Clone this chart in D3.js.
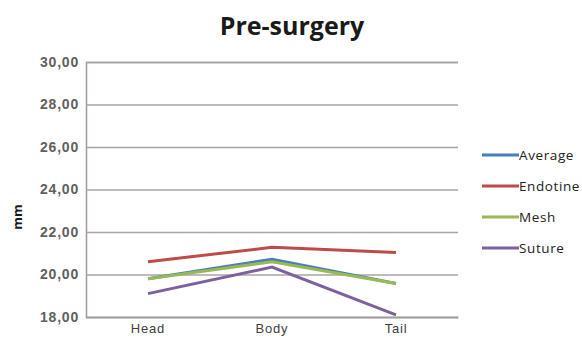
<!DOCTYPE html>
<html>
<head>
<meta charset="utf-8">
<script src="https://cdn.jsdelivr.net/npm/d3@7"></script>
<style>
  body { margin: 0; background: #fff; }
  svg { display: block; font-family: "Open Sans", "Noto Sans", sans-serif; }
</style>
</head>
<body>
<div id="chart"></div>
<script>
// chart values
const categories = ["Head", "Body", "Tail"];
const seriesNames = ["Average", "Endotine", "Mesh", "Suture"];
const average = [19.80, 20.72, 19.58];
const endotine = [20.60, 21.28, 21.03];
const mesh = [19.80, 20.60, 19.58];
const suture = [19.10, 20.35, 18.10];
const yTicks = [18, 20, 22, 24, 26, 28, 30];
const colors = ["#4a7ebb", "#be4b48", "#98b954", "#7d60a0"];

const width = 582;
const height = 341;
const margin = { top: 62, right: 124, bottom: 24, left: 86 };

const svg = d3.select("#chart").append("svg")
    .attr("width", width)
    .attr("height", height);

const x = d3.scaleBand()
    .domain(categories)
    .range([margin.left, width - margin.right]);

const y = d3.scaleLinear()
    .domain([18, 30])
    .range([height - margin.bottom, margin.top]);

// title
svg.append("text")
    .attr("x", 292)
    .attr("y", 35)
    .attr("text-anchor", "middle")
    .attr("font-size", 25)
    .attr("font-weight", "bold")
    .attr("fill", "#1a1a1a")
    .text("Pre-surgery");

// gridlines + y axis
const yAxis = svg.append("g")
    .attr("transform", `translate(${margin.left},0)`)
    .call(d3.axisLeft(y)
        .tickValues(yTicks)
        .tickSize(-(width - margin.right - margin.left))
        .tickPadding(7)
        .tickFormat(d => d3.format(".2f")(d).replace(".", ",")));
yAxis.select(".domain").attr("stroke", "#a09a98").attr("stroke-width", 1.5);
yAxis.selectAll(".tick line").attr("stroke", "#a8a4a2").attr("stroke-width", 1.3);
yAxis.selectAll(".tick text")
    .attr("font-size", 14)
    .attr("font-weight", "bold")
    .attr("letter-spacing", 0.8)
    .attr("fill", "#606060");

// x axis (labels sit low, as in the reference, but kept inside the frame)
const xAxis = svg.append("g")
    .attr("transform", `translate(0,${height - margin.bottom})`)
    .call(d3.axisBottom(x).tickSize(0).tickPadding(7));
xAxis.select(".domain").attr("stroke", "#a09a98").attr("stroke-width", 1.5);
xAxis.selectAll(".tick text")
    .attr("font-size", 13)
    .attr("letter-spacing", 0.8)
    .attr("fill", "#404040");

// y axis title
svg.append("text")
    .attr("transform", "translate(22,217) rotate(-90)")
    .attr("text-anchor", "middle")
    .attr("font-size", 13)
    .attr("font-weight", "bold")
    .attr("fill", "#1a1a1a")
    .text("mm");

// lines
const data = [average, endotine, mesh, suture];
const line = d3.line()
    .x((d, i) => x(categories[i]) + x.bandwidth() / 2)
    .y(d => y(d));

svg.selectAll(".series")
    .data(data)
    .enter().append("path")
    .attr("class", "series")
    .attr("fill", "none")
    .attr("stroke", (d, i) => colors[i])
    .attr("stroke-width", 3)
    .attr("d", line);

// legend
const legend = svg.selectAll(".legend")
    .data(seriesNames)
    .enter().append("g")
    .attr("class", "legend")
    .attr("transform", (d, i) => `translate(482,${155 + i * 31})`);

legend.append("line")
    .attr("x1", 0).attr("x2", 37)
    .attr("stroke", (d, i) => colors[i])
    .attr("stroke-width", 3);

legend.append("text")
    .attr("x", 37)
    .attr("dy", "0.35em")
    .attr("font-size", 13.5)
    .attr("letter-spacing", 0.6)
    .attr("fill", "#222")
    .text(d => d);
</script>
</body>
</html>
